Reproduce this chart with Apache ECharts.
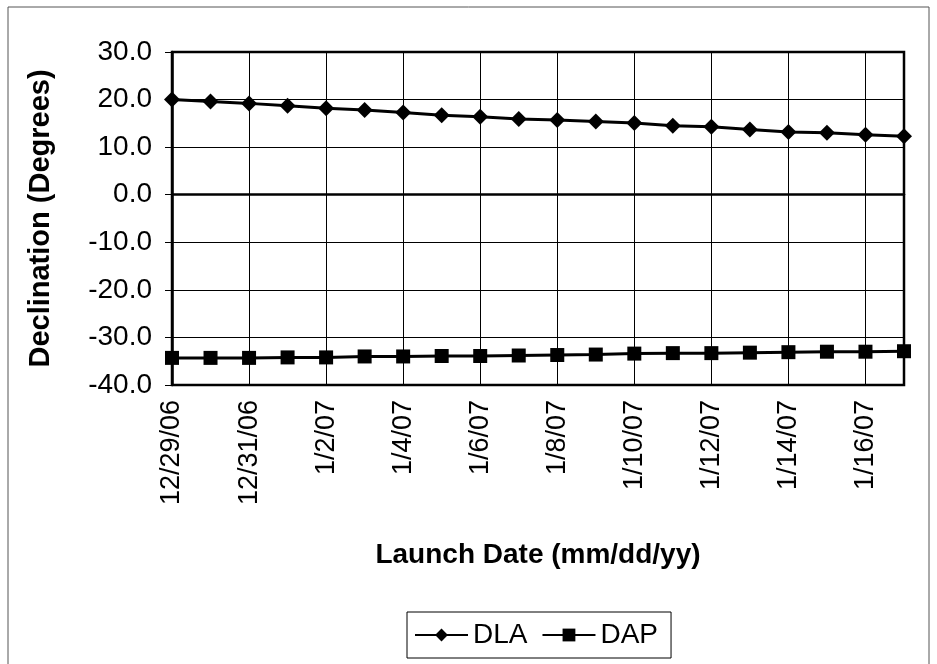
<!DOCTYPE html>
<html>
<head>
<meta charset="utf-8">
<script src="https://cdn.jsdelivr.net/npm/echarts@6/dist/echarts.min.js"></script>
<style>
html,body{margin:0;padding:0;background:#fff;}
#chart{width:937px;height:664px;}
</style>
</head>
<body>
<div id="chart"></div>
<script>
const categories = ["12/29/06","12/30/06","12/31/06","1/1/07","1/2/07","1/3/07","1/4/07","1/5/07","1/6/07","1/7/07","1/8/07","1/9/07","1/10/07","1/11/07","1/12/07","1/13/07","1/14/07","1/15/07","1/16/07","1/17/07"];
const dla = [20.0,19.6,19.2,18.7,18.2,17.8,17.3,16.7,16.4,15.9,15.7,15.4,15.1,14.5,14.3,13.7,13.2,13.0,12.6,12.3];
const dap = [-34.3,-34.3,-34.3,-34.2,-34.2,-34.0,-34.0,-33.9,-33.9,-33.8,-33.7,-33.6,-33.4,-33.3,-33.3,-33.2,-33.1,-33.0,-33.0,-32.9];
const yTicks = {min:-40, max:30, interval:10};
const font = '"Liberation Sans", Arial, sans-serif';

const chart = echarts.init(document.getElementById('chart'), null, {renderer:'canvas'});
chart.setOption({
  backgroundColor:'#fff',
  animation:false,
  textStyle:{fontFamily:font, color:'#000'},
  graphic:[{type:'rect', shape:{x:8,y:7,width:921,height:700}, style:{fill:null, stroke:'#555', lineWidth:1}, z:-10}],
  grid:{left:172, right:33, top:52, bottom:279, show:true, borderColor:'#000', borderWidth:2.5, backgroundColor:'transparent'},
  legend:{
    left:407, top:612, orient:'horizontal',
    borderColor:'#000', borderWidth:1, padding:[9,13,9,7],
    itemWidth:53, itemHeight:16, itemGap:14,
    textStyle:{fontFamily:font, fontSize:28, color:'#000'},
    data:['DLA','DAP']
  },
  xAxis:{
    type:'category', data:categories, boundaryGap:false,
    axisLine:{lineStyle:{color:'#000', width:2.5}},
    axisTick:{show:true, interval:1, length:6, lineStyle:{color:'#000'}},
    axisLabel:{interval:1, rotate:90, fontSize:27, color:'#000', fontFamily:font, margin:15},
    splitLine:{show:true, interval:1, lineStyle:{color:'#000', width:1}},
    name:'Launch Date (mm/dd/yy)', nameLocation:'middle', nameGap:156,
    nameTextStyle:{fontSize:28, fontWeight:'bold', color:'#000', fontFamily:font}
  },
  yAxis:{
    type:'value', min:yTicks.min, max:yTicks.max, interval:yTicks.interval,
    axisLine:{show:true, lineStyle:{color:'#000', width:2.5}},
    axisTick:{show:true, length:7, lineStyle:{color:'#000'}},
    axisLabel:{fontSize:28, color:'#000', fontFamily:font, margin:20, formatter:v=>v.toFixed(1)},
    splitLine:{show:true, lineStyle:{color:'#000', width:1}},
    name:'Declination (Degrees)', nameLocation:'middle', nameGap:117,
    nameTextStyle:{fontSize:29, fontWeight:'bold', color:'#000', fontFamily:font}
  },
  series:[
    {name:'DLA', type:'line', data:dla, symbol:'diamond', symbolSize:16,
     lineStyle:{color:'#000', width:3}, itemStyle:{color:'#000'}},
    {name:'DAP', type:'line', data:dap, symbol:'rect', symbolSize:14,
     lineStyle:{color:'#000', width:3}, itemStyle:{color:'#000'}}
  ]
});
</script>
</body>
</html>
